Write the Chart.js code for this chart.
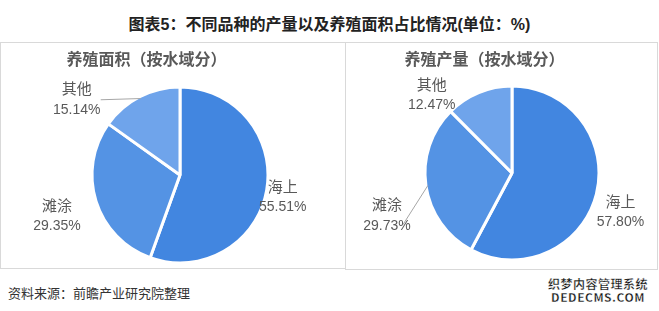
<!DOCTYPE html>
<html>
<head>
<meta charset="utf-8">
<script src="https://cdn.jsdelivr.net/npm/chart.js@4/dist/chart.umd.min.js"></script>
<style>
  html, body { margin:0; padding:0; background:#fff; }
  body { width:659px; height:311px; position:relative; overflow:hidden;
         font-family: "Liberation Sans", "Noto Sans CJK SC", sans-serif; }
  #title { position:absolute; left:0; width:659px; top:11px; text-align:center;
           font: bold 16px "Liberation Sans", "Noto Sans CJK SC", sans-serif; color:#222; }
  .panel { position:absolute; border:1px solid #d9d9d9; box-sizing:border-box; background:#fff; }
  .panel canvas { position:absolute; left:0; top:0; }
  .ptitle { position:absolute; left:0; right:0; top:3px; text-align:center;
            font: bold 16px "Noto Sans CJK SC", sans-serif; color:#595959; z-index:2; }
  #src { position:absolute; left:8px; top:283px; font:13px "Noto Sans CJK SC", sans-serif; color:#333; }
  #wm { position:absolute; left:548px; top:277px; font: bold 12px "Noto Sans CJK SC", sans-serif;
        color:#111; line-height:13px; text-align:center; -webkit-text-stroke:0.3px #fff; letter-spacing:0.5px; }
</style>
</head>
<body>
<div id="title">图表5：不同品种的产量以及养殖面积占比情况(单位：%)</div>

<div class="panel" id="p1" style="left:0; top:42px; width:346px; height:227px;">
  <div class="ptitle" style="right:53px;">养殖面积（按水域分）</div>
  <canvas id="c1"></canvas>
</div>
<div class="panel" id="p2" style="left:345px; top:42px; width:313px; height:228px;">
  <div class="ptitle" style="right:34px;">养殖产量（按水域分）</div>
  <canvas id="c2"></canvas>
</div>

<div id="src">资料来源：前瞻产业研究院整理</div>
<div id="wm">织梦内容管理系统<br>DEDECMS.COM</div>

<script>
// ---- data ----
const categories = ['海上', '滩涂', '其他'];
const areaShare = [55.51, 29.35, 15.14];     // 养殖面积
const outputShare = [57.80, 29.73, 12.47];   // 养殖产量
const sliceColors = ['#4286e0', '#5493e4', '#6fa4eb'];

// label offsets from the outer mid-point of each slice
const areaLabelShift = [[16, 6], [-39, 14], [-63, 2]];
const outputLabelShift = [[24, 17], [-39, 29], [-47, 2]];
const areaLeader = [false, false, true];
const outputLeader = [false, true, false];

/* ---------- outside labels plugin ---------- */
const pieLabels = {
  id: 'pieLabels',
  afterDatasetsDraw(chart, args, opts){
    const ctx = chart.ctx;
    const meta = chart.getDatasetMeta(0);
    const vals = chart.data.datasets[0].data;
    meta.data.forEach((arc, i) => {
      const mid = (arc.startAngle + arc.endAngle) / 2;
      const ex = arc.x + Math.cos(mid) * arc.outerRadius;
      const ey = arc.y + Math.sin(mid) * arc.outerRadius;
      const lx = ex + opts.shift[i][0];
      const ly = ey + opts.shift[i][1];
      ctx.save();
      if(opts.leader[i]){
        ctx.strokeStyle = '#a6a6a6';
        ctx.lineWidth = 1;
        ctx.beginPath();
        ctx.moveTo(ex - Math.cos(mid) * 2, ey - Math.sin(mid) * 2);
        if(i === 2) ctx.lineTo(lx + 24, ly + 1);
        else ctx.lineTo(lx + 16, ly + 10);
        ctx.stroke();
      }
      ctx.fillStyle = '#595959';
      ctx.textAlign = 'center';
      ctx.textBaseline = 'middle';
      ctx.font = '15px "Noto Sans CJK SC", sans-serif';
      ctx.fillText(chart.data.labels[i], lx, ly - 10);
      ctx.font = '14px "Liberation Sans", sans-serif';
      ctx.fillText(vals[i].toFixed(2) + '%', lx, ly + 11);
      ctx.restore();
    });
  }
};

function makePie(id, values, pad, shift, leader){
  return new Chart(document.getElementById(id), {
    type: 'pie',
    data: {
      labels: categories,
      datasets: [{
        data: values,
        backgroundColor: sliceColors,
        borderColor: '#ffffff',
        borderWidth: 3,
        hoverOffset: 0
      }]
    },
    options: {
      responsive: false,
      animation: false,
      rotation: 0,
      layout: { padding: pad },
      plugins: {
        legend: { display: false },
        tooltip: { enabled: false },
        pieLabels: { shift, leader }
      }
    },
    plugins: [pieLabels]
  });
}

(function init(){
  const c1 = document.getElementById('c1');
  c1.width = 344; c1.height = 225;
  const c2 = document.getElementById('c2');
  c2.width = 311; c2.height = 226;
  makePie('c1', areaShare, { left: 89.5, right: 75.5, top: 42.5, bottom: 3.5 }, areaLabelShift, areaLeader);
  makePie('c2', outputShare, { left: 77.5, right: 56.5, top: 41.5, bottom: 7.5 }, outputLabelShift, outputLeader);
})();
</script>
</body>
</html>
